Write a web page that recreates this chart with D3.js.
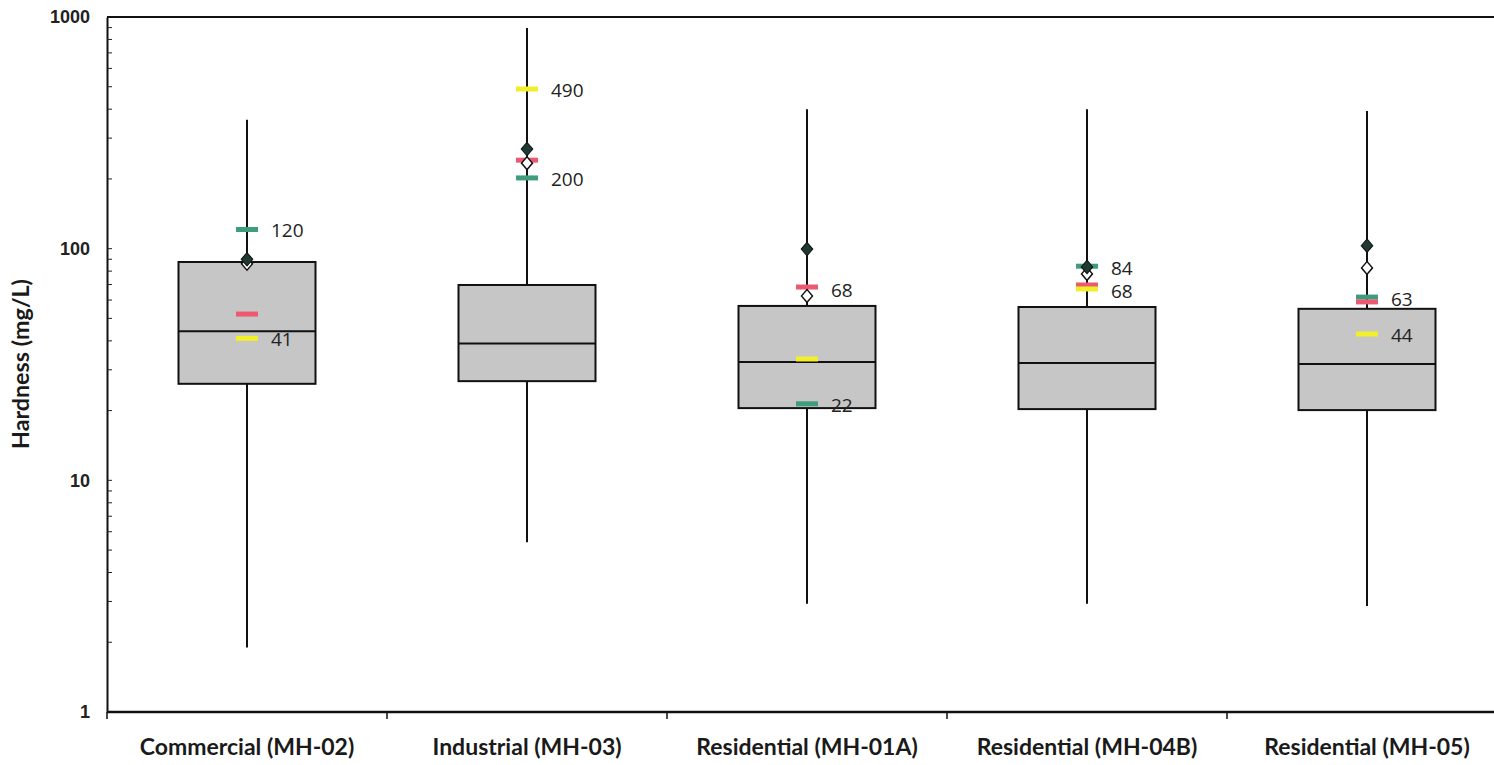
<!DOCTYPE html>
<html><head><meta charset="utf-8">
<script src="https://cdn.jsdelivr.net/npm/d3@7"></script>
<style>body{margin:0;background:#fff;} svg{display:block;}</style>
</head><body>
<svg id="c" width="1494" height="765"></svg>
<script>
const categories = ["Commercial (MH-02)", "Industrial (MH-03)", "Residential (MH-01A)", "Residential (MH-04B)", "Residential (MH-05)"];
const whiskerMin = [1.9, 5.4, 2.93, 2.93, 2.87];
const q1 = [26.1, 26.8, 20.5, 20.3, 20.1];
const median = [44, 39, 32.4, 32.1, 31.8];
const q3 = [87.6, 69.7, 56.6, 56, 55];
const whiskerMax = [360, 896, 400, 400, 393];
const greenDash = [121, 202, 21.4, 84, 61.8];
const redDash = [52.2, 241, 68.3, 69.7, 58.9];
const yellowDash = [41, 489, 33.4, 67, 42.8];
const filledDiamond = [90, 269, 99.6, 83.4, 103];
const openDiamond = [86, 234, 62.5, 77.8, 82.6];
const labelText = [["120", "41"], ["490", "200"], ["68", "22"], ["84", "68"], ["63", "44"]];
const labelAt = [[121, 41], [489, 202], [67, 21.4], [83, 66], [61, 43]];
const yTicks = [1, 10, 100, 1000];

const svg = d3.select("#c");
const L = 107, T = 17, B = 712;
const x = d3.scaleBand().domain(categories).range([L, L + 280 * 5]).padding(0);
const y = d3.scaleLog().domain([1, 1000]).range([B, T]);
const bw = 137;

// top border
svg.append("line").attr("x1", L).attr("x2", 1494).attr("y1", T).attr("y2", T)
  .attr("stroke", "#111").attr("stroke-width", 2);

// Y axis
const yAxis = d3.axisLeft(y).tickValues(yTicks).tickFormat(d3.format("d")).tickSize(0).tickPadding(17);
const gy = svg.append("g").attr("transform", `translate(${L},0)`).call(yAxis);
gy.select(".domain").attr("stroke", "#111").attr("stroke-width", 2);
gy.selectAll("text").attr("font-family", "Liberation Sans, Arial, sans-serif").attr("font-size", 18)
  .attr("font-weight", "bold").attr("fill", "#222");
// minor ticks inside
const minor = [];
[1, 10, 100].forEach(d => { for (let k = 2; k <= 9; k++) minor.push(d * k); });
svg.append("g").selectAll("line").data(minor.concat([10, 100])).join("line")
  .attr("x1", L).attr("x2", L + 5).attr("y1", d => y(d)).attr("y2", d => y(d))
  .attr("stroke", "#222").attr("stroke-width", 1);

// X axis
const gx = svg.append("g").attr("transform", `translate(0,${B})`)
  .call(d3.axisBottom(x).tickSize(0).tickPadding(27));
gx.select(".domain").attr("stroke", "#111").attr("stroke-width", 2.5).attr("d", `M${L},0H1494`);
gx.selectAll("text").attr("font-family", "Lato, sans-serif").attr("font-size", 23)
  .attr("font-weight", "bold").attr("fill", "#1a1a1a");
const bounds = categories.slice(1).map(c => x(c));
svg.append("g").selectAll("line").data([L].concat(bounds)).join("line")
  .attr("x1", d => d).attr("x2", d => d).attr("y1", B).attr("y2", B + 7)
  .attr("stroke", "#111").attr("stroke-width", 1.5);

// Y title
svg.append("text").attr("transform", "translate(29,364) rotate(-90)").attr("text-anchor", "middle")
  .attr("font-family", "Lato, sans-serif").attr("font-weight", "bold").attr("font-size", 22)
  .attr("textLength", 170).attr("lengthAdjust", "spacingAndGlyphs")
  .attr("fill", "#1a1a1a").text("Hardness (mg/L)");

const cx = i => x(categories[i]) + x.bandwidth() / 2;
const idx = d3.range(categories.length);

// whiskers
svg.append("g").selectAll("line").data(idx).join("line")
  .attr("x1", cx).attr("x2", cx).attr("y1", i => y(whiskerMax[i])).attr("y2", i => y(whiskerMin[i]))
  .attr("stroke", "#111").attr("stroke-width", 2);
// boxes
svg.append("g").selectAll("rect").data(idx).join("rect")
  .attr("x", i => cx(i) - bw / 2).attr("width", bw)
  .attr("y", i => y(q3[i])).attr("height", i => y(q1[i]) - y(q3[i]))
  .attr("fill", "#c6c6c6").attr("stroke", "#111").attr("stroke-width", 2);
svg.append("g").selectAll("line").data(idx).join("line")
  .attr("x1", i => cx(i) - bw / 2).attr("x2", i => cx(i) + bw / 2)
  .attr("y1", i => y(median[i])).attr("y2", i => y(median[i]))
  .attr("stroke", "#111").attr("stroke-width", 2);

// dashes
function dashes(vals, color) {
  svg.append("g").selectAll("rect").data(idx).join("rect")
    .attr("x", i => cx(i) - 11).attr("width", 22)
    .attr("y", i => y(vals[i]) - 2.5).attr("height", 5)
    .attr("fill", color);
}
dashes(greenDash, "#3f9c7e");
dashes(redDash, "#ec5a72");
dashes(yellowDash, "#f2ef2a");

const diamond = d3.symbol().type(d3.symbolDiamond2).size(95);
svg.append("g").selectAll("path").data(idx).join("path")
  .attr("d", diamond).attr("transform", i => `translate(${cx(i)},${y(openDiamond[i])}) scale(0.9,1.05)`)
  .attr("fill", "#fff").attr("stroke", "#111").attr("stroke-width", 1.5);
svg.append("g").selectAll("path").data(idx).join("path")
  .attr("d", diamond).attr("transform", i => `translate(${cx(i)},${y(filledDiamond[i])}) scale(0.95,1.1)`)
  .attr("fill", "#1e3a32").attr("stroke", "#111").attr("stroke-width", 1);

// value labels
idx.forEach(i => {
  labelText[i].forEach((t, j) => {
    svg.append("text").attr("x", cx(i) + 24).attr("y", y(labelAt[i][j]) + 1)
      .attr("dominant-baseline", "central")
      .attr("font-family", "Open Sans, sans-serif").attr("font-size", 19).attr("fill", "#222").text(t);
  });
});
</script>
</body></html>
